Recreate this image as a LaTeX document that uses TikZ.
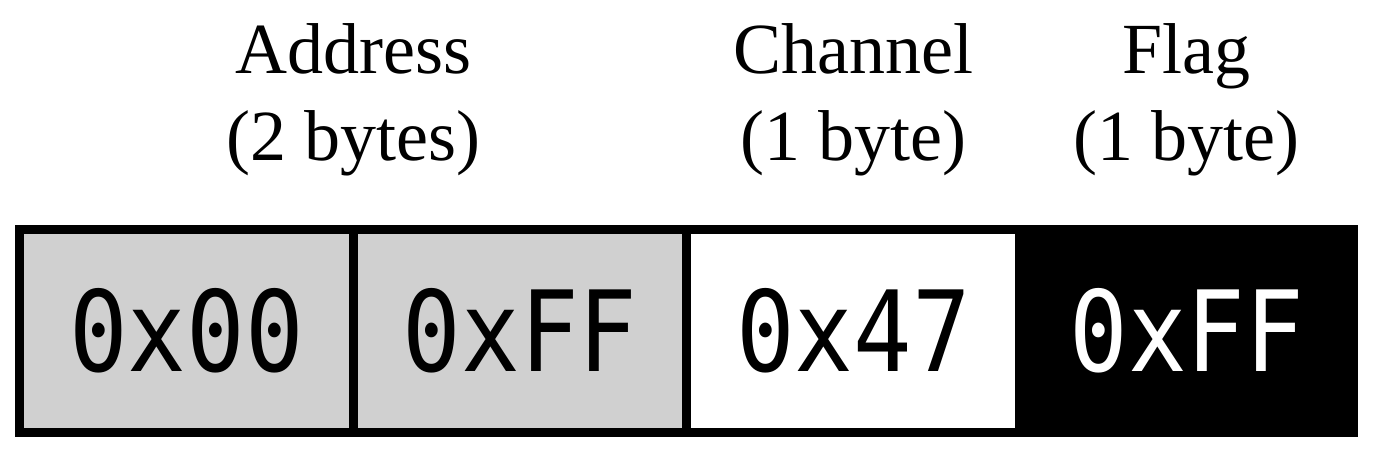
\documentclass[tikz,border=0pt]{standalone}
\usepackage{fontspec}
\setmainfont{Liberation Serif}
\newfontfamily\hexfont[FakeStretch=0.87]{DejaVu Sans Mono}
\definecolor{cellgray}{RGB}{208,208,208}
\begin{document}
\begin{tikzpicture}[x=0.5pt,y=-0.5pt,
  cell/.style={draw=black, line width=4.5pt, minimum width=167pt, minimum height=101.75pt, inner sep=0pt, outer sep=0pt,
    font=\hexfont\fontsize{56}{60}\selectfont},
  lbl/.style={anchor=base, inner sep=0pt, font=\fontsize{36}{43}\selectfont}]
\useasboundingbox (0,0) rectangle (1375,457);
\node[cell, fill=cellgray] (c1) at (186.5,330.75) {0x00};
\node[cell, fill=cellgray] (c2) at (520.25,330.75) {0xFF};
\node[cell, fill=white] (c3) at (853.5,330.75) {0x47};
\node[cell, fill=black, text=white] (c4) at (1186.75,330.75) {0xFF};
\node[lbl] (a1) at (353.5,73) {Address};
\node[lbl] (a2) at (353.5,160) {(2 bytes)};
\node[lbl] (b1) at (853.5,73) {Channel};
\node[lbl] (b2) at (853.5,160) {(1 byte)};
\node[lbl] (f1) at (1186.75,73) {Flag};
\node[lbl] (f2) at (1186.75,160) {(1 byte)};
\end{tikzpicture}
\end{document}
